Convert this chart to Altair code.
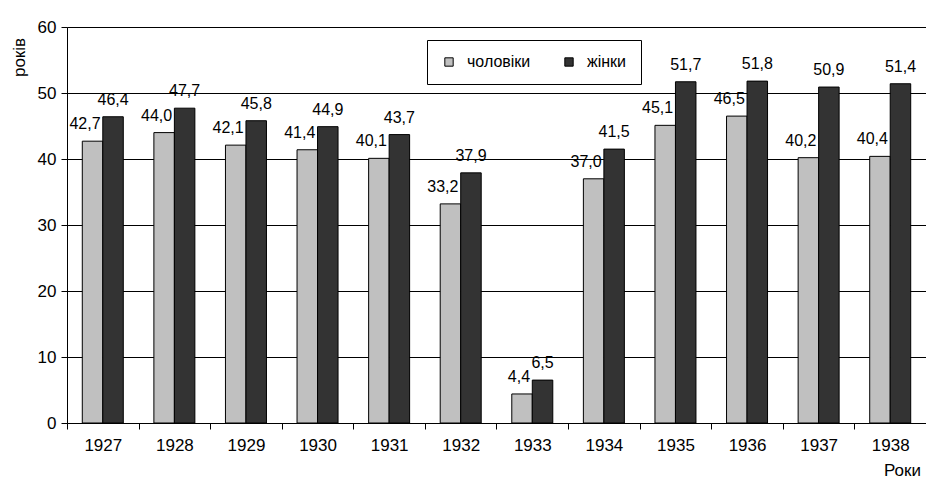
import altair as alt
import pandas as pd

years = ["1927", "1928", "1929", "1930", "1931", "1932", "1933", "1934", "1935", "1936", "1937", "1938"]
men = [42.7, 44.0, 42.1, 41.4, 40.1, 33.2, 4.4, 37.0, 45.1, 46.5, 40.2, 40.4]
women = [46.4, 47.7, 45.8, 44.9, 43.7, 37.9, 6.5, 41.5, 51.7, 51.8, 50.9, 51.4]
series = ["чоловіки", "жінки"]
colors = ["#c0c0c0", "#333333"]
y_ticks = [0, 10, 20, 30, 40, 50, 60]

rows = []
for i, yr in enumerate(years):
    for s, vals in zip(series, [men, women]):
        v = vals[i]
        rows.append({"year": yr, "sex": s, "value": v,
                     "label": f"{v:.1f}".replace(".", ",")})
df = pd.DataFrame(rows)

FONT = "Liberation Sans"

x_enc = alt.X("year:N", sort=years,
              scale=alt.Scale(paddingInner=0, paddingOuter=0),
              axis=alt.Axis(title="Роки", labelAngle=0, tickBand="extent",
                            tickSize=6, labelPadding=8, grid=False,
                            domainColor="black", tickColor="black",
                            titleX=835, titleY=47, titleAlign="center",
                            titleBaseline="middle", titleFontWeight="normal"))
xo_enc = alt.XOffset("sex:N", sort=series,
                     scale=alt.Scale(domain=series, paddingInner=0, paddingOuter=0.746))
y_enc = alt.Y("value:Q",
              scale=alt.Scale(domain=[0, 60], nice=False),
              axis=alt.Axis(title="років", values=y_ticks, tickSize=6, labelPadding=5,
                            grid=True, gridColor="black", domainColor="black",
                            tickColor="black", titleX=-48, titleY=30,
                            titleAlign="center", titleBaseline="middle",
                            titleAngle=-90, titleFontWeight="normal"))

bars = alt.Chart(df).mark_bar(stroke="black", strokeWidth=1).encode(
    x=x_enc,
    xOffset=xo_enc,
    y=y_enc,
    color=alt.Color("sex:N", sort=series,
                    scale=alt.Scale(domain=series, range=colors),
                    legend=alt.Legend(title=None, orient="none", legendX=360, legendY=13,
                                      direction="horizontal", strokeColor="black",
                                      fillColor="white", padding=14,
                                      symbolType="square", symbolSize=70,
                                      symbolStrokeColor="black", symbolStrokeWidth=1,
                                      symbolOpacity=1,
                                      labelFontSize=16, labelFont=FONT,
                                      columnPadding=30, labelOffset=10)),
)

men_text = alt.Chart(df).transform_filter(alt.datum.sex == "чоловіки").mark_text(
    align="right", baseline="bottom", dx=8, dy=-9, fontSize=16, font=FONT, color="black"
).encode(x=alt.X("year:N", sort=years), xOffset=alt.XOffset("sex:N", sort=series),
         y="value:Q", text="label:N")

women_text = alt.Chart(df).transform_filter(alt.datum.sex == "жінки").mark_text(
    align="center", baseline="bottom", dy=-9, fontSize=16, font=FONT, color="black"
).encode(x=alt.X("year:N", sort=years), xOffset=alt.XOffset("sex:N", sort=series),
         y="value:Q", text="label:N")

chart = alt.layer(bars, men_text, women_text).properties(
    width=859, height=396,
    autosize=alt.AutoSizeParams(type="none"),
    padding={"left": 59, "top": 19, "right": 0, "bottom": 56},
    background="white",
).configure_view(stroke="#aaaaaa", strokeWidth=1).configure_axis(
    labelFont=FONT, labelFontSize=17, titleFont=FONT, titleFontSize=17,
    labelColor="black", titleColor="black"
)

chart.save("out.html", embed_options={"renderer": "svg", "actions": False})
